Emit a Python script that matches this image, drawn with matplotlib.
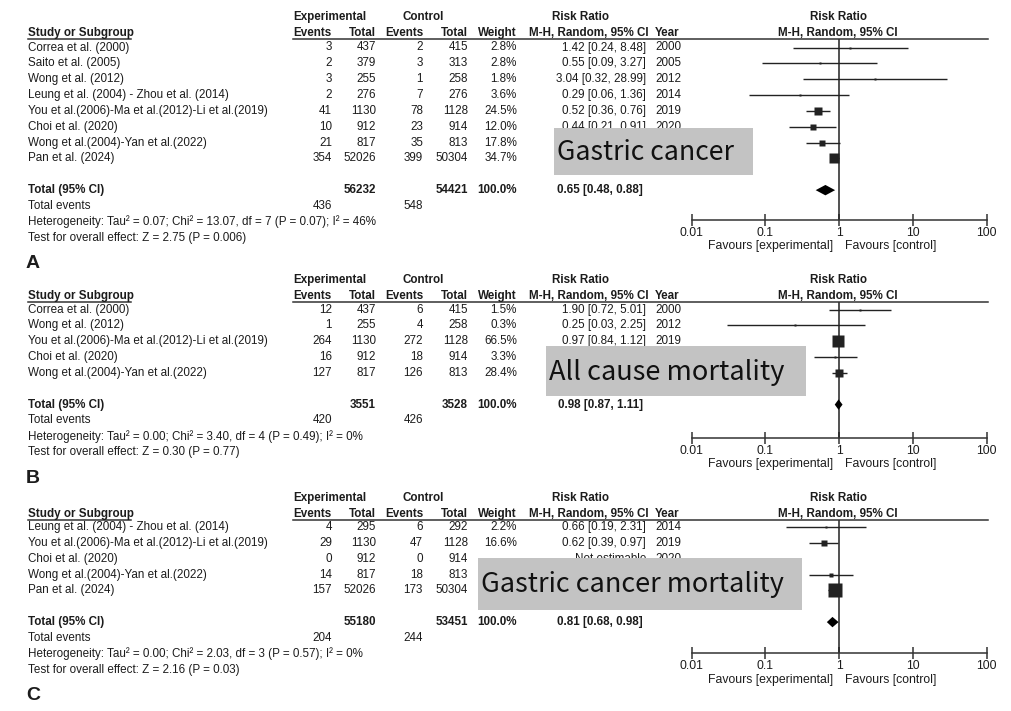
import matplotlib
matplotlib.use('Agg')
import matplotlib.pyplot as plt
from matplotlib.lines import Line2D
from matplotlib.patches import Rectangle
import numpy as np

# === Data ===
A_studies = ['Correa et al. (2000)', 'Saito et al. (2005)', 'Wong et al. (2012)',
             'Leung et al. (2004) - Zhou et al. (2014)',
             'You et al.(2006)-Ma et al.(2012)-Li et al.(2019)', 'Choi et al. (2020)',
             'Wong et al.(2004)-Yan et al.(2022)', 'Pan et al. (2024)']
A_exp_events = [3, 2, 3, 2, 41, 10, 21, 354]
A_exp_total = [437, 379, 255, 276, 1130, 912, 817, 52026]
A_ctl_events = [2, 3, 1, 7, 78, 23, 35, 399]
A_ctl_total = [415, 313, 258, 276, 1128, 914, 813, 50304]
A_weight = [2.8, 2.8, 1.8, 3.6, 24.5, 12.0, 17.8, 34.7]
A_rr = [1.42, 0.55, 3.04, 0.29, 0.52, 0.44, 0.59, 0.86]
A_lo = [0.24, 0.09, 0.32, 0.06, 0.36, 0.21, 0.35, 0.74]
A_hi = [8.48, 3.27, 28.99, 1.36, 0.76, 0.91, 1.01, 0.99]
A_year = [2000, 2005, 2012, 2014, 2019, 2020, 2022, 2024]
A_totals = [56232, 54421, 436, 548]
A_pooled = [0.65, 0.48, 0.88]
A_het = 'Heterogeneity: Tau² = 0.07; Chi² = 13.07, df = 7 (P = 0.07); I² = 46%'
A_test = 'Test for overall effect: Z = 2.75 (P = 0.006)'

B_studies = ['Correa et al. (2000)', 'Wong et al. (2012)',
             'You et al.(2006)-Ma et al.(2012)-Li et al.(2019)', 'Choi et al. (2020)',
             'Wong et al.(2004)-Yan et al.(2022)']
B_exp_events = [12, 1, 264, 16, 127]
B_exp_total = [437, 255, 1130, 912, 817]
B_ctl_events = [6, 4, 272, 18, 126]
B_ctl_total = [415, 258, 1128, 914, 813]
B_weight = [1.5, 0.3, 66.5, 3.3, 28.4]
B_rr = [1.90, 0.25, 0.97, 0.89, 1.00]
B_lo = [0.72, 0.03, 0.84, 0.46, 0.80]
B_hi = [5.01, 2.25, 1.12, 1.73, 1.26]
B_year = [2000, 2012, 2019, 2020, 2022]
B_totals = [3551, 3528, 420, 426]
B_pooled = [0.98, 0.87, 1.11]
B_het = 'Heterogeneity: Tau² = 0.00; Chi² = 3.40, df = 4 (P = 0.49); I² = 0%'
B_test = 'Test for overall effect: Z = 0.30 (P = 0.77)'

C_studies = ['Leung et al. (2004) - Zhou et al. (2014)',
             'You et al.(2006)-Ma et al.(2012)-Li et al.(2019)', 'Choi et al. (2020)',
             'Wong et al.(2004)-Yan et al.(2022)', 'Pan et al. (2024)']
C_exp_events = [4, 29, 0, 14, 157]
C_exp_total = [295, 1130, 912, 817, 52026]
C_ctl_events = [6, 47, 0, 18, 173]
C_ctl_total = [292, 1128, 914, 813, 50304]
C_weight = [2.2, 16.6, None, 7.2, 74.0]
C_rr = [0.66, 0.62, None, 0.77, 0.87]
C_lo = [0.19, 0.39, None, 0.39, 0.70]
C_hi = [2.31, 0.97, None, 1.54, 1.07]
C_year = [2014, 2019, 2020, 2022, 2024]
C_totals = [55180, 53451, 204, 244]
C_pooled = [0.81, 0.68, 0.98]
C_het = 'Heterogeneity: Tau² = 0.00; Chi² = 2.03, df = 3 (P = 0.57); I² = 0%'
C_test = 'Test for overall effect: Z = 2.16 (P = 0.03)'

x_ticks = [0.01, 0.1, 1, 10, 100]
x_ticklabels = ['0.01', '0.1', '1', '10', '100']

# === Layout (pixels) ===
W, H = 1011, 711
SANS = ['Liberation Sans', 'DejaVu Sans']
FS = 8.4
INK = '#1c1c1c'
PITCH = 15.85
COL = dict(name=28, ee=332, et=376, ce=423, ct=468, w=517, rr=646, yr=655)
X0, X1 = 691.7, 986.7  # 0.01 .. 100

fig = plt.figure(figsize=(W / 100, H / 100), dpi=100)
fig.patch.set_facecolor('white')


def fx(x):
    return x / W


def fy(y):
    return 1 - y / H


def txt(x, y, s, ha='left', bold=False, size=FS, family=SANS, color=INK, z=3):
    return fig.text(fx(x), fy(y), s, ha=ha, va='center', fontsize=size,
                    fontweight='bold' if bold else 'normal', family=family,
                    color=color, zorder=z)


def hline(x0, x1, y, lw=1.1):
    fig.add_artist(Line2D([fx(x0), fx(x1)], [fy(y), fy(y)], color='#333333',
                          lw=lw, transform=fig.transFigure))


def panel(studies, ee, et, ce, ct, wt, rr, lo, hi, yr, totals, pooled, het, test,
          letter, h1, row0, axis_y, box, box_label):
    h2 = h1 + 16
    line_y = h2 + 5.5
    # headers
    txt(330, h1, 'Experimental', ha='center', bold=True)
    txt(423, h1, 'Control', ha='center', bold=True)
    txt(580, h1, 'Risk Ratio', ha='center', bold=True)
    txt(838, h1, 'Risk Ratio', ha='center', bold=True)
    txt(COL['name'], h2, 'Study or Subgroup', bold=True)
    txt(COL['ee'], h2, 'Events', ha='right', bold=True)
    txt(COL['et'], h2, 'Total', ha='right', bold=True)
    txt(COL['ce'], h2, 'Events', ha='right', bold=True)
    txt(COL['ct'], h2, 'Total', ha='right', bold=True)
    txt(COL['w'], h2, 'Weight', ha='right', bold=True)
    txt(COL['rr'] + 3, h2, 'M-H, Random, 95% CI', ha='right', bold=True)
    txt(COL['yr'], h2, 'Year', bold=True)
    txt(838, h2, 'M-H, Random, 95% CI', ha='center', bold=True)
    hline(COL['name'], 131, line_y)
    hline(293, 988, line_y)

    # study rows
    for i, s in enumerate(studies):
        y = row0 + i * PITCH
        txt(COL['name'], y, s)
        txt(COL['ee'], y, str(ee[i]), ha='right')
        txt(COL['et'], y, str(et[i]), ha='right')
        txt(COL['ce'], y, str(ce[i]), ha='right')
        txt(COL['ct'], y, str(ct[i]), ha='right')
        if wt[i] is not None:
            txt(COL['w'], y, f'{wt[i]:.1f}%', ha='right')
            txt(COL['rr'], y, f'{rr[i]:.2f} [{lo[i]:.2f}, {hi[i]:.2f}]', ha='right')
        else:
            txt(COL['rr'], y, 'Not estimable', ha='right')
        txt(COL['yr'], y, str(yr[i]))

    n = len(studies)
    ty = row0 + (n + 1) * PITCH
    txt(COL['name'], ty, 'Total (95% CI)', bold=True)
    txt(COL['et'], ty, str(totals[0]), ha='right', bold=True)
    txt(COL['ct'], ty, str(totals[1]), ha='right', bold=True)
    txt(COL['w'], ty, '100.0%', ha='right', bold=True)
    txt(COL['rr'] - 3, ty, f'{pooled[0]:.2f} [{pooled[1]:.2f}, {pooled[2]:.2f}]',
        ha='right', bold=True)
    txt(COL['name'], ty + PITCH, 'Total events')
    txt(COL['ee'], ty + PITCH, str(totals[2]), ha='right')
    txt(COL['ce'], ty + PITCH, str(totals[3]), ha='right')
    txt(COL['name'], ty + 2 * PITCH, het)
    txt(COL['name'], ty + 3 * PITCH, test)
    txt(COL['name'] - 2, ty + 4.65 * PITCH, letter, bold=True, size=14)

    # forest plot
    ax = fig.add_axes([fx(X0), fy(axis_y), (X1 - X0) / W, (axis_y - line_y) / H])
    ax.set_facecolor('none')
    ax.set_xscale('log')
    ax.set_xlim(0.01, 100)
    ax.set_ylim((axis_y - row0) / PITCH, (line_y - row0) / PITCH)
    for k in ('top', 'left', 'right'):
        ax.spines[k].set_visible(False)
    ax.spines['bottom'].set_color('#333333')
    ax.spines['bottom'].set_linewidth(1.1)
    ax.set_yticks([])
    ax.set_xticks(x_ticks)
    ax.set_xticklabels(x_ticklabels)
    ax.xaxis.set_minor_locator(matplotlib.ticker.NullLocator())
    ax.tick_params(axis='x', direction='inout', length=8, width=1.1,
                   color='#333333', pad=1.0, labelsize=FS + 0.4, labelcolor=INK)
    for lab in ax.get_xticklabels():
        lab.set_family(SANS)
    ax.axvline(1, color='#222222', lw=1.1, zorder=2)

    rows = np.arange(n)
    for i in range(n):
        if rr[i] is None:
            continue
        ax.hlines(rows[i], lo[i], hi[i], color='#222222', lw=1.0, zorder=3)
        side_px = max(2.0, 1.55 * np.sqrt(wt[i]))
        ax.plot(rr[i], rows[i], 's', ms=side_px * 0.72, color='#222222',
                mec='none', zorder=4)
    tr = n + 1
    dh = 5.2 / PITCH
    ax.fill([pooled[1], pooled[0], pooled[2], pooled[0]],
            [tr, tr - dh, tr, tr + dh], color='black', lw=0, zorder=4)

    fy_fav = axis_y + 26.5
    txt(833, fy_fav, 'Favours [experimental]', ha='right', size=FS + 0.4)
    txt(845, fy_fav, 'Favours [control]', size=FS + 0.4)

    # grey overlay label
    bx0, by0, bx1, by1 = box
    fig.add_artist(Rectangle((fx(bx0), fy(by1)), (bx1 - bx0) / W, (by1 - by0) / H,
                             transform=fig.transFigure, facecolor='#c3c3c3',
                             edgecolor='none', zorder=10))
    t = fig.text(fx(bx0 + 3), fy((by0 + by1) / 2 + 1), box_label[0], ha='left',
                 va='center', fontsize=18, family=['Noto Sans CJK KR', 'DejaVu Sans'],
                 color='#111111', zorder=11)
    r = fig.canvas.get_renderer()
    wpx = t.get_window_extent(r).width
    t.set_fontsize(18 * box_label[1] / wpx)


panel(A_studies, A_exp_events, A_exp_total, A_ctl_events, A_ctl_total, A_weight,
      A_rr, A_lo, A_hi, A_year, A_totals, A_pooled, A_het, A_test,
      'A', 17, 47.5, 220, (554, 128, 753, 175), ('Gastric cancer', 176))
panel(B_studies, B_exp_events, B_exp_total, B_ctl_events, B_ctl_total, B_weight,
      B_rr, B_lo, B_hi, B_year, B_totals, B_pooled, B_het, B_test,
      'B', 280, 309.5, 438, (546, 346, 806, 396), ('All cause mortality', 235))
panel(C_studies, C_exp_events, C_exp_total, C_ctl_events, C_ctl_total, C_weight,
      C_rr, C_lo, C_hi, C_year, C_totals, C_pooled, C_het, C_test,
      'C', 498, 527, 653, (478, 558, 802, 610), ('Gastric cancer mortality', 302))

fig.savefig('out.png', dpi=100, facecolor='white')
